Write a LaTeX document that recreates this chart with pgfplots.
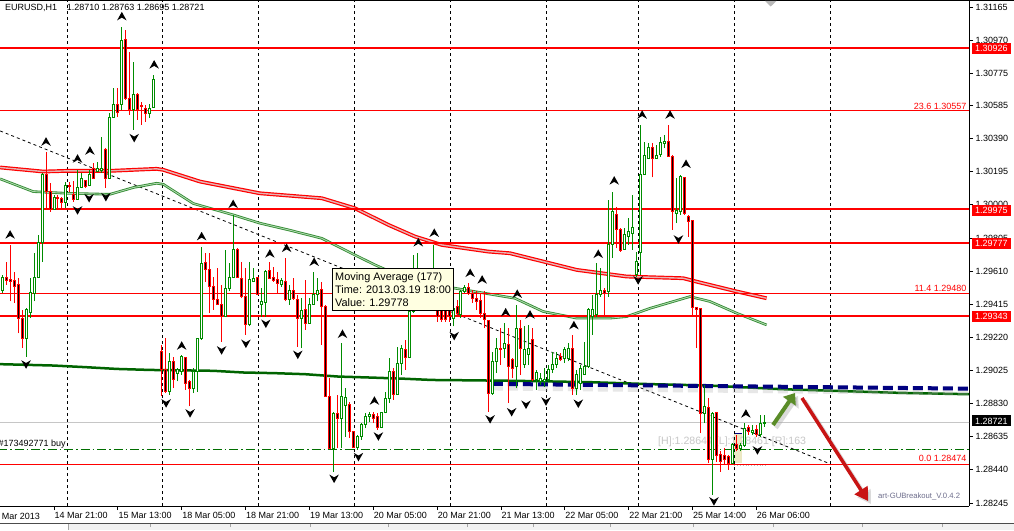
\documentclass[border=0pt]{standalone}
\usepackage{fontspec}
\setmainfont{Liberation Sans}
\usepackage{pgfplots}
\usepackage{pgfplotstable}
\pgfplotsset{compat=1.18}
\usetikzlibrary{arrows.meta}

\definecolor{cgreen}{RGB}{0,140,0}
\definecolor{cred}{RGB}{255,0,0}
\definecolor{tipbg}{RGB}{255,255,225}
\definecolor{navyb}{RGB}{0,0,128}
\definecolor{dkgreen}{RGB}{0,100,0}
\definecolor{maGreen}{RGB}{50,140,50}
\definecolor{maGreenIn}{RGB}{175,215,175}
\definecolor{maRedIn}{RGB}{230,180,180}
\definecolor{arrgreen}{RGB}{90,140,40}
\definecolor{arrred}{RGB}{200,20,20}
\definecolor{ordgreen}{RGB}{0,110,0}
\definecolor{boxyel}{RGB}{236,232,196}
\definecolor{eatext}{RGB}{110,110,140}

\pgfdeclareplotmark{nothing}{}
\pgfdeclareplotmark{fup}{%
 \pgfpathmoveto{\pgfqpoint{0pt}{4.8pt}}%
 \pgfpathlineto{\pgfqpoint{4.8pt}{-3.8pt}}%
 \pgfpathlineto{\pgfqpoint{0pt}{-1pt}}%
 \pgfpathlineto{\pgfqpoint{-4.8pt}{-3.8pt}}%
 \pgfpathclose\pgfusepathqfill}
\pgfdeclareplotmark{fdown}{%
 \pgfpathmoveto{\pgfqpoint{0pt}{-4.8pt}}%
 \pgfpathlineto{\pgfqpoint{4.8pt}{3.8pt}}%
 \pgfpathlineto{\pgfqpoint{0pt}{1pt}}%
 \pgfpathlineto{\pgfqpoint{-4.8pt}{3.8pt}}%
 \pgfpathclose\pgfusepathqfill}

\pgfplotstableread{
n o h l c
-13 1.29494 1.29588 1.29480 1.29574
-7 1.29215 1.29391 1.29107 1.29382
-6 1.29366 1.29568 1.29333 1.29486
-5 1.29480 1.29715 1.29431 1.29574
-4 1.29574 1.29823 1.29568 1.29778
-3 1.29778 1.30186 1.29666 1.30180
0 1.29974 1.30058 1.29970 1.30043
3 1.30013 1.30137 1.29980 1.30111
6 1.30033 1.30206 1.30029 1.30104
7 1.30104 1.30186 1.30098 1.30157
9 1.30111 1.30206 1.30108 1.30180
11 1.30196 1.30255 1.30196 1.30215
12 1.30200 1.30402 1.30186 1.30212
14 1.30157 1.30539 1.30157 1.30516
15 1.30516 1.30686 1.30516 1.30592
17 1.30592 1.31049 1.30559 1.30965
20 1.30559 1.30843 1.30441 1.30647
24 1.30539 1.30592 1.30510 1.30569
25 1.30573 1.30765 1.30573 1.30739
29 1.28901 1.29127 1.28881 1.29078
31 1.29009 1.29038 1.28960 1.29028
32 1.29019 1.29117 1.28999 1.29107
35 1.28921 1.29038 1.28891 1.29019
36 1.29019 1.29215 1.28901 1.29211
37 1.29211 1.29754 1.29205 1.29656
43 1.29342 1.29735 1.29342 1.29509
44 1.29509 1.29656 1.29490 1.29574
45 1.29574 1.29941 1.29568 1.29735
49 1.29293 1.29666 1.29284 1.29558
50 1.29548 1.29627 1.29548 1.29568
52 1.29415 1.29509 1.29342 1.29431
53 1.29427 1.29617 1.29342 1.29607
57 1.29533 1.29568 1.29519 1.29552
59 1.29441 1.29529 1.29411 1.29494
62 1.29333 1.29450 1.29156 1.29376
64 1.29303 1.29450 1.29303 1.29415
65 1.29415 1.29607 1.29411 1.29470
66 1.29470 1.29568 1.29431 1.29494
70 1.28567 1.28783 1.28430 1.28773
72 1.28744 1.29185 1.28567 1.28872
73 1.28819 1.28921 1.28636 1.28868
76 1.28571 1.28646 1.28558 1.28636
77 1.28636 1.28715 1.28616 1.28705
78 1.28705 1.28773 1.28685 1.28754
79 1.28754 1.28783 1.28724 1.28768
82 1.28689 1.28783 1.28685 1.28779
83 1.28779 1.28901 1.28773 1.28862
84 1.28862 1.29097 1.28832 1.29019
86 1.28881 1.29166 1.28881 1.29068
87 1.29068 1.29176 1.28999 1.29156
89 1.29101 1.29391 1.29097 1.29372
90 1.29372 1.29705 1.29362 1.29617
91 1.29607 1.29715 1.29490 1.29627
93 1.29450 1.29568 1.29411 1.29529
95 1.29431 1.29764 1.29401 1.29588
100 1.29329 1.29401 1.29284 1.29391
102 1.29352 1.29499 1.29333 1.29490
103 1.29490 1.29529 1.29480 1.29513
110 1.28891 1.29136 1.28881 1.29078
111 1.29078 1.29215 1.29009 1.29156
113 1.29156 1.29303 1.29097 1.29185
116 1.29048 1.29411 1.28921 1.29274
118 1.29058 1.29284 1.29038 1.29146
119 1.29117 1.29293 1.29058 1.29156
121 1.28970 1.29028 1.28911 1.29015
122 1.28960 1.29009 1.28940 1.28979
123 1.28960 1.29038 1.28930 1.28974
124 1.28974 1.29058 1.28960 1.29028
125 1.29028 1.29136 1.29009 1.29058
126 1.29058 1.29133 1.29038 1.29097
128 1.29097 1.29166 1.29068 1.29146
129 1.29097 1.29185 1.29078 1.29156
131 1.28921 1.29028 1.28881 1.28999
132 1.28950 1.29058 1.28911 1.29038
133 1.28999 1.29195 1.28999 1.29048
134 1.29048 1.29391 1.29038 1.29382
135 1.29342 1.29470 1.29235 1.29382
136 1.29352 1.29656 1.29342 1.29470
137 1.29470 1.29627 1.29460 1.29494
139 1.29490 1.30029 1.29460 1.29764
140 1.29764 1.30078 1.29686 1.29960
143 1.29735 1.29862 1.29735 1.29823
144 1.29813 1.29921 1.29764 1.29843
145 1.29833 1.30058 1.29735 1.29866
146 1.29588 1.29725 1.29578 1.29666
147 1.29721 1.30471 1.29588 1.30180
148 1.30180 1.30372 1.30176 1.30288
149 1.30274 1.30363 1.30274 1.30337
151 1.30274 1.30353 1.30274 1.30290
152 1.30294 1.30402 1.30284 1.30367
153 1.30363 1.30412 1.30333 1.30372
156 1.29951 1.30157 1.29892 1.29964
157 1.29960 1.30176 1.29941 1.30166
163 1.28773 1.28940 1.28715 1.28813
165 1.28499 1.28783 1.28293 1.28773
170 1.28479 1.28597 1.28479 1.28587
172 1.28567 1.28597 1.28548 1.28583
173 1.28583 1.28715 1.28577 1.28685
175 1.28662 1.28705 1.28646 1.28671
177 1.28650 1.28764 1.28636 1.28715
178 1.28710 1.28763 1.28695 1.28721
}\bull

\pgfplotstableread{
n o h l c
-12 1.29574 1.29666 1.29529 1.29554
-11 1.29558 1.29764 1.29431 1.29548
-10 1.29552 1.29607 1.29421 1.29519
-9 1.29529 1.29568 1.29243 1.29333
-8 1.29333 1.29382 1.29156 1.29215
-2 1.30180 1.30314 1.29970 1.30078
-1 1.30078 1.30127 1.29960 1.29974
1 1.30043 1.30058 1.29970 1.30035
2 1.30039 1.30049 1.29980 1.30013
4 1.30113 1.30137 1.30078 1.30106
5 1.30058 1.30143 1.30019 1.30029
8 1.30141 1.30147 1.30098 1.30108
10 1.30212 1.30245 1.30157 1.30157
13 1.30327 1.30333 1.30098 1.30157
16 1.30592 1.30686 1.30520 1.30545
18 1.30971 1.31030 1.30618 1.30628
19 1.30628 1.30902 1.30529 1.30559
21 1.30647 1.30657 1.30500 1.30563
22 1.30584 1.30608 1.30471 1.30578
23 1.30569 1.30588 1.30490 1.30539
27 1.29136 1.29176 1.28872 1.29028
28 1.29028 1.29215 1.28891 1.28901
30 1.29078 1.29107 1.28921 1.28970
33 1.29103 1.29107 1.28911 1.28950
34 1.28960 1.28970 1.28813 1.28921
38 1.29662 1.29715 1.29548 1.29617
39 1.29617 1.29715 1.29362 1.29519
40 1.29519 1.29578 1.29382 1.29441
41 1.29441 1.29627 1.29411 1.29415
42 1.29415 1.29529 1.29195 1.29342
46 1.29735 1.29745 1.29568 1.29574
47 1.29568 1.29666 1.29450 1.29460
48 1.29460 1.29627 1.29235 1.29293
51 1.29574 1.29578 1.29470 1.29470
54 1.29611 1.29666 1.29568 1.29568
55 1.29574 1.29637 1.29548 1.29554
56 1.29558 1.29607 1.29480 1.29539
58 1.29548 1.29686 1.29431 1.29441
60 1.29494 1.29568 1.29441 1.29446
61 1.29441 1.29470 1.29166 1.29333
63 1.29386 1.29558 1.29264 1.29303
67 1.29503 1.29548 1.29176 1.29401
68 1.29401 1.29411 1.28872 1.28872
69 1.28872 1.28979 1.28567 1.28567
71 1.28770 1.28881 1.28567 1.28744
74 1.28823 1.28842 1.28626 1.28666
75 1.28666 1.28666 1.28567 1.28571
80 1.28768 1.28783 1.28715 1.28740
81 1.28754 1.28773 1.28675 1.28689
85 1.29019 1.29038 1.28852 1.28881
88 1.29146 1.29205 1.29028 1.29101
92 1.29568 1.29588 1.29431 1.29470
94 1.29509 1.29548 1.29391 1.29411
96 1.29548 1.29568 1.29313 1.29342
97 1.29391 1.29431 1.29313 1.29323
98 1.29382 1.29421 1.29313 1.29323
99 1.29382 1.29411 1.29313 1.29342
101 1.29401 1.29441 1.29342 1.29362
104 1.29513 1.29539 1.29470 1.29480
105 1.29480 1.29499 1.29421 1.29450
106 1.29450 1.29490 1.29382 1.29431
107 1.29437 1.29480 1.29333 1.29362
108 1.29362 1.29490 1.29274 1.29323
109 1.29317 1.29323 1.28783 1.28891
112 1.29156 1.29274 1.29058 1.29146
114 1.29176 1.29274 1.28832 1.29048
115 1.29087 1.29097 1.28979 1.29038
117 1.29270 1.29323 1.28999 1.29156
120 1.29205 1.29274 1.28960 1.28970
127 1.29107 1.29127 1.29078 1.29087
130 1.29156 1.29235 1.28881 1.28921
138 1.29494 1.29509 1.29352 1.29480
141 1.29945 1.29990 1.29745 1.29853
142 1.29853 1.29862 1.29725 1.29729
150 1.30337 1.30363 1.30161 1.30274
154 1.30372 1.30471 1.30294 1.30284
155 1.30284 1.30294 1.29853 1.29960
158 1.30163 1.30166 1.29941 1.29951
159 1.29931 1.29941 1.29813 1.29902
160 1.29906 1.29911 1.29342 1.29395
161 1.29395 1.29401 1.29156 1.29382
162 1.29391 1.29391 1.28656 1.28773
164 1.28807 1.28862 1.28479 1.28499
166 1.28779 1.28783 1.28489 1.28524
167 1.28528 1.28548 1.28430 1.28489
168 1.28524 1.28567 1.28469 1.28499
169 1.28518 1.28528 1.28440 1.28479
171 1.28587 1.28646 1.28548 1.28567
174 1.28689 1.28705 1.28646 1.28666
176 1.28675 1.28705 1.28636 1.28646
}\bear

\pgfplotstableread{
n p
-13.5 1.30220
-2.7 1.30196
3.2 1.30200
14 1.30200
25.7 1.30212
27.4 1.30206
36.6 1.30137
51.6 1.30068
67.1 1.30039
75.4 1.29980
83.8 1.29882
90.5 1.29813
97.2 1.29764
108.8 1.29725
114.3 1.29715
131 1.29617
143.5 1.29578
157.7 1.29568
161 1.29548
171.1 1.29490
178.6 1.29450
}\maRed

\pgfplotstableread{
n p
-13.5 1.30153
-5.2 1.30078
3.2 1.30068
14 1.30062
19.9 1.30102
25.7 1.30127
27.4 1.30121
34.9 1.30008
44.9 1.29941
51.6 1.29892
58.7 1.29853
67.1 1.29803
75.4 1.29705
80.5 1.29646
88 1.29568
100.5 1.29509
115.5 1.29450
122.6 1.29372
131 1.29333
139.3 1.29333
143.5 1.29342
149.4 1.29391
159.4 1.29460
164.4 1.29431
171.1 1.29362
178.6 1.29293
}\maGrn

\pgfplotstableread{
n p
-13.5 1.29062
-0.2 1.29054
8.2 1.29044
15.7 1.29034
24.1 1.29028
39.9 1.29023
47.4 1.29013
55.4 1.29009
62.9 1.29003
71.3 1.28989
79.6 1.28983
87.1 1.28977
94.7 1.28969
103.8 1.28967
115.5 1.28964
134.3 1.28956
150.2 1.28944
164.4 1.28936
182 1.28915
212 1.28893
229.4 1.28885
}\maLong

\pgfplotstableread{
n p
-11.0 1.29823
-2.0 1.30370
5.9 1.30270
9.0 1.30317
17.0 1.31108
25.1 1.30824
32.0 1.29169
37.0 1.29813
44.9 1.30003
54.1 1.29711
58.3 1.29744
65.2 1.29662
72.3 1.29238
80.3 1.28845
91.3 1.29777
95.3 1.29833
104.3 1.29597
107.3 1.29558
113.2 1.29365
116.1 1.29474
119.3 1.29352
130.3 1.29289
136.4 1.29709
140.4 1.30141
147.4 1.30529
154.4 1.30529
158.4 1.30239
173.4 1.28769
}\fracUp

\pgfplotstableread{
n p
-7.0 1.29063
5.9 1.29970
8.8 1.30042
13.0 1.30048
20.1 1.30396
28.1 1.28834
34.1 1.28775
42.0 1.29146
48.1 1.29185
53.1 1.29303
61.1 1.29120
70.2 1.28390
76.3 1.28518
81.3 1.28639
100.3 1.29230
109.3 1.28740
114.7 1.28782
118.3 1.28826
123.3 1.28845
131.4 1.28832
146.4 1.29558
156.5 1.29799
165.4 1.28257
176.3 1.28557
}\fracDn

\begin{document}
\begin{tikzpicture}[x=1pt,y=1pt]
\useasboundingbox (0,0) rectangle (1014,530);
\fill[white] (0,0) rectangle (1014,530);

% background decorations (behind candles)
\fill[boxyel] (734.3,66.7) rectangle (741.7,96);
\draw[navyb, line width=1pt] (734.3,96) -- (741.7,96);
\draw[gray!50, dotted, line width=0.8pt] (734.3,64.5) -- (766,64.5);
\node[anchor=base west, inner sep=0pt, text=black!22, font=\fontsize{10.6}{12}\selectfont] at (658,85) {[H]:1.28644 [L]:1.28461 [R]:163};

\begin{axis}[
  at={(0pt,24pt)}, anchor=south west,
  scale only axis, width=969pt, height=506pt,
  xmin=-13.534, xmax=229.32, ymin=1.28227, ymax=1.31206,
  axis x line*=bottom, axis y line*=right,
  axis line style={-, black, line width=0.8pt},
  xtick={0,16,32,48,64,80,96,112,128,144,160,176},
  xticklabels={14 Mar 21:00,15 Mar 13:00,18 Mar 05:00,18 Mar 21:00,19 Mar 13:00,20 Mar 05:00,20 Mar 21:00,21 Mar 13:00,22 Mar 05:00,22 Mar 21:00,25 Mar 14:00,26 Mar 06:00},
  ytick={1.31165,1.30970,1.30775,1.30585,1.30390,1.30195,1.30000,1.29805,1.29610,1.29415,1.29220,1.29025,1.28830,1.28635,1.28440,1.28245},
  yticklabels={1.31165,1.30970,1.30775,1.30585,1.30390,1.30195,1.30000,1.29805,1.29610,1.29415,1.29220,1.29025,1.28830,1.28635,1.28440,1.28245},
  tick align=outside, major tick length=4pt,
  tick style={black, line width=0.7pt},
  ticklabel style={font=\fontsize{9}{10}\selectfont},
  xticklabel style={anchor=north west, inner sep=1pt, xshift=-0.5pt, yshift=-1.5pt},
  yticklabel style={anchor=west, inner sep=2.5pt},
  extra x ticks={3.25,27.1,51.1,75.2,99.4,123.3,146.4,170.6,194.5},
  extra x tick labels={},
  extra x tick style={grid=major, major tick length=0pt,
     major grid style={black, line width=0.7pt, dash pattern=on 3pt off 3pt}},
]
% bid line and order line
\addplot[gray!45, line width=1pt] coordinates {(-14,1.28721) (230,1.28721)};
\addplot[ordgreen, line width=1pt, dash pattern=on 9pt off 3pt on 1.5pt off 3pt] coordinates {(-14,1.28561) (230,1.28561)};
% trend line
\addplot[black, line width=0.8pt, dash pattern=on 3pt off 3pt] coordinates {(-13.5,1.30435) (194,1.28480)};

% candles
\addplot[scatter, only marks, mark=nothing,
  visualization depends on={\thisrow{h}-\thisrow{o} \as \candH},
  visualization depends on={\thisrow{l}-\thisrow{o} \as \candL},
  visualization depends on={\thisrow{c}-\thisrow{o} \as \candC},
  scatter/@pre marker code/.code={%
    \draw[cgreen, line width=1pt] (axis direction cs:0,\candL) -- (axis direction cs:0,\candH);
    \filldraw[draw=cgreen, fill=white, line width=1pt] (-1pt,0pt) rectangle ([xshift=1pt]axis direction cs:0,\candC);
  },
  scatter/@post marker code/.code={}
] table[x=n, y=o] {\bull};
\addplot[scatter, only marks, mark=nothing,
  visualization depends on={\thisrow{h}-\thisrow{o} \as \candH},
  visualization depends on={\thisrow{l}-\thisrow{o} \as \candL},
  visualization depends on={\thisrow{c}-\thisrow{o} \as \candC},
  scatter/@pre marker code/.code={%
    \draw[cred, line width=1pt] (axis direction cs:0,\candL) -- (axis direction cs:0,\candH);
    \filldraw[draw=cred, fill=black, line width=1pt] (-1pt,0pt) rectangle ([xshift=1pt]axis direction cs:0,\candC);
  },
  scatter/@post marker code/.code={}
] table[x=n, y=o] {\bear};

% moving averages
\addplot[dkgreen, line width=2.5pt] table[x=n, y=p] {\maLong};
\addplot[maGreen, line width=2.6pt] table[x=n, y=p] {\maGrn};
\addplot[maGreenIn, line width=0.9pt] table[x=n, y=p] {\maGrn};
\addplot[cred, line width=3.8pt] table[x=n, y=p] {\maRed};
\addplot[maRedIn, line width=1.4pt] table[x=n, y=p] {\maRed};

% horizontal levels
\addplot[cred, line width=2pt] coordinates {(-14,1.30926) (230,1.30926)};
\addplot[cred, line width=1pt] coordinates {(-14,1.30557) (230,1.30557)};
\addplot[cred, line width=2pt] coordinates {(-14,1.29975) (230,1.29975)};
\addplot[cred, line width=2pt] coordinates {(-14,1.29777) (230,1.29777)};
\addplot[cred, line width=1pt] coordinates {(-14,1.29480) (230,1.29480)};
\addplot[cred, line width=2pt] coordinates {(-14,1.29343) (230,1.29343)};
\addplot[cred, line width=1pt] coordinates {(-14,1.28474) (230,1.28474)};

% breakout line with shadow
\addplot[black!30, opacity=0.3, line width=5pt, dash pattern=on 10pt off 5pt] coordinates {(110,1.28922) (229.4,1.28894)};
\addplot[navyb, line width=4pt, dash pattern=on 10pt off 5pt] coordinates {(110,1.28946) (229.4,1.28918)};

% fractals
\addplot[only marks, mark=fup, black] table[x=n, y=p] {\fracUp};
\addplot[only marks, mark=fdown, black] table[x=n, y=p] {\fracDn};
\end{axis}

% level labels
\begin{scope}[font=\fontsize{9}{10}\selectfont]
\node[anchor=base east, inner sep=0pt, text=cred] at (966.7,420) {23.6 1.30557};
\node[anchor=base east, inner sep=0pt, text=cred] at (966.7,238.5) {11.4 1.29480};
\node[anchor=base east, inner sep=0pt, text=cred] at (966.7,68.5) {0.0 1.28474};
% right price boxes
\foreach \yy/\tt/\cc in {481.7/1.30926/cred, 319.5/1.29975/cred, 286.2/1.29777/cred, 213.7/1.29343/cred, 109/1.28721/black}{
  \node[fill=\cc, text=white, inner sep=0pt, minimum width=39.5pt, minimum height=11pt, anchor=west] at (971.5,\yy) {\tt};
}
\node[anchor=base west, inner sep=0pt] at (5,519.5) {EURUSD,H1\hspace{9.7pt}1.28710 1.28763 1.28695 1.28721};
\node[anchor=base west, inner sep=0pt] at (-1.5,83.5) {\#173492771 buy};
\node[anchor=base east, inner sep=0pt] at (40,11) {14 Mar 2013};
\end{scope}
\node[anchor=base west, inner sep=0pt, text=eatext, font=\fontsize{7.7}{9}\selectfont] at (878,32) {art-GUBreakout\_V.0.4.2};

% top border and shift marker
\draw[black, line width=0.8pt] (0,529.6) -- (1014,529.6);
\fill[gray!55] (765,529) -- (776.5,529) -- (770.7,523.5) -- cycle;

% tooltip
\draw[fill=tipbg, draw=black, line width=0.8pt] (332.3,261.7) rectangle (453.7,220);
\begin{scope}[font=\fontsize{10.9}{12}\selectfont]
\node[anchor=base west, inner sep=0pt] at (335,249) {Moving Average (177)};
\node[anchor=base west, inner sep=0pt] at (335,236) {Time: 2013.03.19 18:00};
\node[anchor=base west, inner sep=0pt] at (335,223.5) {Value: 1.29778};
\end{scope}

% arrows
\draw[line width=4pt, black!35, opacity=0.4, -{Triangle[length=10pt,width=15pt]}] (776,102) -- (798,134);
\draw[line width=4pt, arrgreen, -{Triangle[length=10pt,width=15pt]}] (773,105) -- (795,137);
\draw[line width=3.5pt, black!35, opacity=0.4, -{Triangle[length=13pt,width=15pt]}] (805,129) -- (871,26);
\draw[line width=3.5pt, arrred, -{Triangle[length=13pt,width=15pt]}] (802,132) -- (868,29);

% bottom strip
\draw[gray!60!black, line width=0.8pt] (0,6.5) -- (1014,6.5);
\fill[gray!10] (68,0) rectangle (1014,6);
\draw[gray!70, line width=0.6pt] (68,0) -- (68,6);
\foreach \xx in {150,230,310,388,467,533,610,693,773,862,942}{\draw[gray!70, line width=0.6pt] (\xx,3) -- (\xx,6);}
\end{tikzpicture}
\end{document}
